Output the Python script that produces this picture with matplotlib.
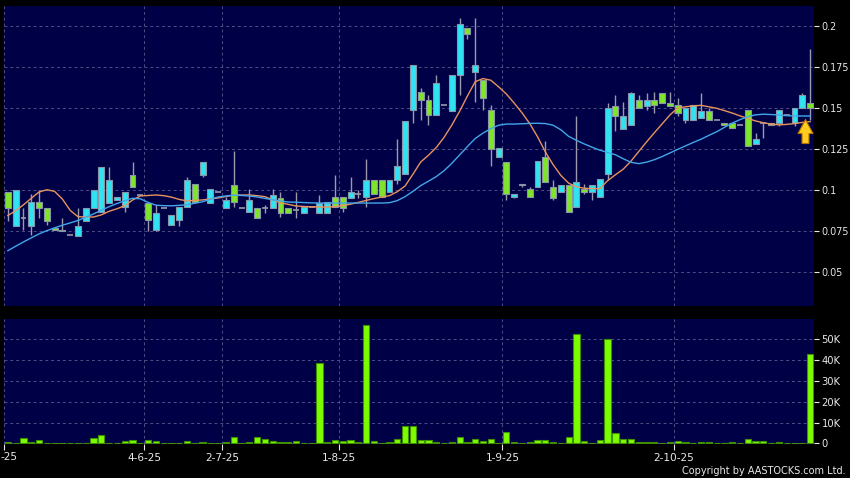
import numpy as np
import matplotlib
matplotlib.use("Agg")
import matplotlib.pyplot as plt
from matplotlib.path import Path

# daily candles (index = trading day on the axis)
opens = [0.099, 0.078, 0.083, 0.078, 0.093, 0.089, 0.077, 0.075, 0.073, 0.072,
         0.081, 0.089, 0.087, 0.092, 0.094, 0.090, 0.109, 0.097, 0.092, 0.076,
         0.089, 0.079, 0.082, 0.090, 0.104, 0.109, 0.092, 0.099, 0.089, 0.103,
         0.089, 0.087, 0.089, 0.089, 0.089, 0.095, 0.089, 0.088, 0.086, 0.090,
         0.086, 0.086, 0.096, 0.096, 0.095, 0.098, 0.096, 0.106, 0.106, 0.099,
         0.106, 0.110, 0.149, 0.160, 0.155, 0.146, 0.152, 0.148, 0.170, 0.199,
         0.172, 0.167, 0.149, 0.120, 0.117, 0.096, 0.104, 0.101, 0.102, 0.120,
         0.102, 0.099, 0.103, 0.090, 0.101, 0.099, 0.096, 0.110, 0.151, 0.137,
         0.140, 0.155, 0.151, 0.155, 0.159, 0.153, 0.152, 0.143, 0.143, 0.144,
         0.148, 0.143, 0.141, 0.141, 0.140, 0.149, 0.128, 0.141, 0.141, 0.141,
         0.146, 0.141, 0.150, 0.153]
highs = [0.099, 0.100, 0.089, 0.098, 0.100, 0.089, 0.077, 0.083, 0.073, 0.089,
         0.089, 0.100, 0.114, 0.114, 0.096, 0.099, 0.117, 0.097, 0.092, 0.091,
         0.089, 0.085, 0.090, 0.108, 0.104, 0.117, 0.101, 0.099, 0.096, 0.124,
         0.089, 0.101, 0.089, 0.091, 0.101, 0.099, 0.089, 0.099, 0.090, 0.090,
         0.097, 0.093, 0.109, 0.096, 0.108, 0.100, 0.119, 0.106, 0.106, 0.106,
         0.131, 0.142, 0.176, 0.162, 0.158, 0.170, 0.152, 0.170, 0.205, 0.199,
         0.205, 0.167, 0.152, 0.126, 0.117, 0.098, 0.104, 0.102, 0.118, 0.130,
         0.106, 0.103, 0.103, 0.145, 0.104, 0.103, 0.107, 0.153, 0.158, 0.154,
         0.160, 0.158, 0.159, 0.160, 0.159, 0.160, 0.156, 0.150, 0.152, 0.159,
         0.150, 0.143, 0.141, 0.141, 0.140, 0.149, 0.135, 0.141, 0.141, 0.149,
         0.146, 0.150, 0.159, 0.186]
lows = [0.081, 0.078, 0.076, 0.073, 0.083, 0.079, 0.076, 0.075, 0.073, 0.072,
        0.081, 0.089, 0.087, 0.092, 0.094, 0.087, 0.102, 0.097, 0.075, 0.075,
        0.089, 0.079, 0.078, 0.090, 0.092, 0.108, 0.092, 0.099, 0.089, 0.090,
        0.089, 0.087, 0.083, 0.086, 0.089, 0.084, 0.086, 0.083, 0.086, 0.090,
        0.086, 0.086, 0.090, 0.087, 0.095, 0.095, 0.090, 0.098, 0.096, 0.099,
        0.104, 0.110, 0.141, 0.143, 0.140, 0.146, 0.152, 0.148, 0.158, 0.192,
        0.154, 0.149, 0.115, 0.120, 0.094, 0.095, 0.102, 0.096, 0.102, 0.105,
        0.094, 0.099, 0.087, 0.090, 0.098, 0.094, 0.096, 0.106, 0.136, 0.137,
        0.140, 0.150, 0.149, 0.147, 0.153, 0.151, 0.145, 0.141, 0.143, 0.144,
        0.143, 0.143, 0.140, 0.138, 0.140, 0.127, 0.128, 0.132, 0.140, 0.139,
        0.146, 0.139, 0.150, 0.143]
closes = [0.089, 0.100, 0.083, 0.093, 0.089, 0.081, 0.076, 0.076, 0.073, 0.078,
          0.089, 0.100, 0.114, 0.106, 0.096, 0.099, 0.102, 0.097, 0.082, 0.086,
          0.089, 0.085, 0.090, 0.106, 0.093, 0.117, 0.101, 0.099, 0.094, 0.093,
          0.089, 0.094, 0.083, 0.089, 0.097, 0.086, 0.086, 0.088, 0.090, 0.090,
          0.092, 0.093, 0.090, 0.089, 0.099, 0.098, 0.106, 0.098, 0.096, 0.106,
          0.115, 0.142, 0.176, 0.155, 0.146, 0.165, 0.152, 0.170, 0.201, 0.195,
          0.176, 0.156, 0.125, 0.126, 0.098, 0.098, 0.103, 0.096, 0.118, 0.105,
          0.095, 0.103, 0.087, 0.105, 0.099, 0.103, 0.107, 0.150, 0.145, 0.145,
          0.159, 0.150, 0.155, 0.152, 0.153, 0.151, 0.147, 0.150, 0.152, 0.148,
          0.143, 0.143, 0.140, 0.138, 0.140, 0.127, 0.131, 0.141, 0.140, 0.149,
          0.146, 0.150, 0.158, 0.150]
volumes = [500, 100, 2500, 600, 1400, 100, 100, 100, 0, 100,
           300, 2500, 4000, 200, 100, 1100, 1400, 0, 1600, 1100,
           300, 100, 100, 900, 100, 600, 100, 0, 800, 2900,
           0, 800, 3000, 1900, 900, 600, 600, 1100, 200, 0,
           38500, 600, 1600, 1100, 1400, 400, 56900, 1100, 300, 500,
           1900, 8300, 8300, 1800, 1400, 500, 0, 600, 2900, 600,
           1900, 1100, 2300, 300, 5300, 800, 100, 500, 1600, 1600,
           500, 300, 3200, 52500, 1100, 300, 1700, 50300, 4800, 1900,
           1900, 600, 600, 500, 100, 500, 900, 600, 100, 500,
           600, 0, 100, 500, 0, 2100, 900, 900, 300, 500,
           0, 100, 200, 42900]
# moving averages as drawn on the chart
ma_short = [0.0846, 0.0876, 0.0911, 0.0951, 0.0989, 0.1003, 0.0993, 0.0946, 0.0877, 0.0839,
            0.0837, 0.0837, 0.0850, 0.0872, 0.0887, 0.0906, 0.0940, 0.0965, 0.0968, 0.0971,
            0.0967, 0.0958, 0.0944, 0.0935, 0.0938, 0.0941, 0.0947, 0.0953, 0.0962, 0.0970,
            0.0971, 0.0971, 0.0967, 0.0961, 0.0942, 0.0923, 0.0914, 0.0904, 0.0901, 0.0899,
            0.0898, 0.0898, 0.0900, 0.0907, 0.0915, 0.0926, 0.0938, 0.0949, 0.0959, 0.0967,
            0.0991, 0.1026, 0.1097, 0.1172, 0.1213, 0.1260, 0.1322, 0.1397, 0.1481, 0.1574,
            0.1661, 0.1680, 0.1670, 0.1630, 0.1586, 0.1531, 0.1472, 0.1406, 0.1326, 0.1234,
            0.1156, 0.1090, 0.1043, 0.1021, 0.1012, 0.1010, 0.1010, 0.1058, 0.1094, 0.1128,
            0.1177, 0.1236, 0.1294, 0.1350, 0.1404, 0.1458, 0.1502, 0.1508, 0.1514, 0.1517,
            0.1508, 0.1499, 0.1485, 0.1470, 0.1453, 0.1437, 0.1422, 0.1411, 0.1403, 0.1398,
            0.1401, 0.1406, 0.1413, 0.1418]
ma_long = [0.0632, 0.0659, 0.0685, 0.0710, 0.0734, 0.0754, 0.0771, 0.0787, 0.0801, 0.0816,
           0.0835, 0.0856, 0.0878, 0.0900, 0.0919, 0.0936, 0.0951, 0.0948, 0.0926, 0.0909,
           0.0906, 0.0905, 0.0908, 0.0912, 0.0921, 0.0930, 0.0945, 0.0959, 0.0965, 0.0970,
           0.0968, 0.0965, 0.0959, 0.0950, 0.0942, 0.0934, 0.0928, 0.0927, 0.0925, 0.0923,
           0.0922, 0.0922, 0.0922, 0.0922, 0.0922, 0.0922, 0.0922, 0.0922, 0.0922, 0.0924,
           0.0937, 0.0961, 0.0993, 0.1028, 0.1055, 0.1083, 0.1119, 0.1164, 0.1215, 0.1266,
           0.1315, 0.1348, 0.1375, 0.1396, 0.1403, 0.1403, 0.1405, 0.1407, 0.1408, 0.1406,
           0.1396, 0.1368, 0.1328, 0.1304, 0.1282, 0.1262, 0.1244, 0.1230, 0.1216, 0.1192,
           0.1170, 0.1162, 0.1171, 0.1186, 0.1205, 0.1227, 0.1249, 0.1270, 0.1291, 0.1311,
           0.1334, 0.1356, 0.1383, 0.1409, 0.1430, 0.1448, 0.1459, 0.1463, 0.1461, 0.1458,
           0.1454, 0.1452, 0.1452, 0.1452]
date_tick_index = [0, 18, 28, 43, 64, 86]
date_labels = ["", "4-6-25", "2-7-25", "1-8-25", "1-9-25", "2-10-25"]
price_ticks = [0.05, 0.075, 0.1, 0.125, 0.15, 0.175, 0.2]
volume_ticks = [0, 10000, 20000, 30000, 40000, 50000]

BG = "#000046"
GRID = "#4e4e86"
UP = "#2fe3f2"
DOWN = "#7fe52a"
EDGE = "#8a96a8"
WICK = "#9a9aaa"
TXT = "#e8e8e8"

o = np.array(opens)
h = np.array(highs)
l = np.array(lows)
c = np.array(closes)
x = np.arange(len(c))

fig = plt.figure(figsize=(8.5, 4.78), dpi=100, facecolor="black")
ax = fig.add_axes([4 / 850, 172 / 478, 810 / 850, 300.5 / 478])
axv = fig.add_axes([4 / 850, 34.5 / 478, 810 / 850, 124.5 / 478], sharex=ax)

tick_pos = np.array(date_tick_index) - 0.5
for a in (ax, axv):
    a.set_facecolor(BG)
    for s in a.spines.values():
        s.set_visible(False)
    a.yaxis.tick_right()
    a.set_xticks(tick_pos)
    a.grid(True, color=GRID, linestyle=(0, (3, 3)), linewidth=0.7)
    a.set_axisbelow(True)
    a.tick_params(axis="y", colors=TXT, length=3.5, width=0.8, pad=2, labelsize=7.2)
# price labels a touch smaller so "0.175" fits inside the canvas
ax.tick_params(axis="y", labelsize=6.9)

# price panel
ax.vlines(x, l, h, color=WICK, linewidth=1, zorder=2)
up = c > o
dn = c < o
fl = c == o
ax.bar(x[up], (c - o)[up], bottom=o[up], width=0.76, color=UP,
       edgecolor=EDGE, linewidth=0.8, zorder=3)
ax.bar(x[dn], (o - c)[dn], bottom=c[dn], width=0.76, color=DOWN,
       edgecolor=EDGE, linewidth=0.8, zorder=3)
ax.hlines(c[fl], x[fl] - 0.38, x[fl] + 0.38, color=WICK, linewidth=1.2, zorder=3)
ax.plot(x, ma_short, color="#e8935e", linewidth=1, zorder=4)
ax.plot(x, ma_long, color="#42a6ea", linewidth=1, zorder=4)

# yellow marker arrow under the last candle
arrow = Path([(0, 1), (0.625, -0.17), (0.29, -0.17), (0.29, -1), (-0.29, -1),
              (-0.29, -0.17), (-0.625, -0.17), (0, 1)], closed=True)
ax.plot([x[-1] - 0.65], [c[-1] - 0.0139], marker=arrow, markersize=17.3,
        markerfacecolor="#ffcc1e", markeredgecolor="#b07000", markeredgewidth=0.8,
        linestyle="none", zorder=6)

ax.set_xlim(-0.5, len(c) - 0.5)
ax.set_ylim(0.0295, 0.2125)
ax.set_yticks(price_ticks)
ax.set_yticklabels([f"{v:g}" for v in price_ticks])
ax.tick_params(axis="x", length=0, labelbottom=False)

# volume panel
axv.bar(x, volumes, width=0.8, color="#7dfc00", edgecolor="#3f9000",
        linewidth=0.8, zorder=3)
axv.set_ylim(-100, 59800)
axv.set_yticks(volume_ticks)
axv.set_yticklabels(["0"] + [f"{v // 1000}K" for v in volume_ticks[1:]])
axv.set_xticklabels(date_labels)
axv.tick_params(axis="x", colors=TXT, length=4, width=0.8, pad=3,
                labelsize=7.6, direction="out")

fig.text(0.5 / 850, (478 - 452) / 478, "-25", color=TXT, fontsize=7.6,
         ha="left", va="top")
fig.text(846 / 850, 1.5 / 478, "Copyright by AASTOCKS.com Ltd.", color=TXT,
         fontsize=7, ha="right", va="bottom")

fig.savefig("out.png", dpi=100, facecolor="black")
